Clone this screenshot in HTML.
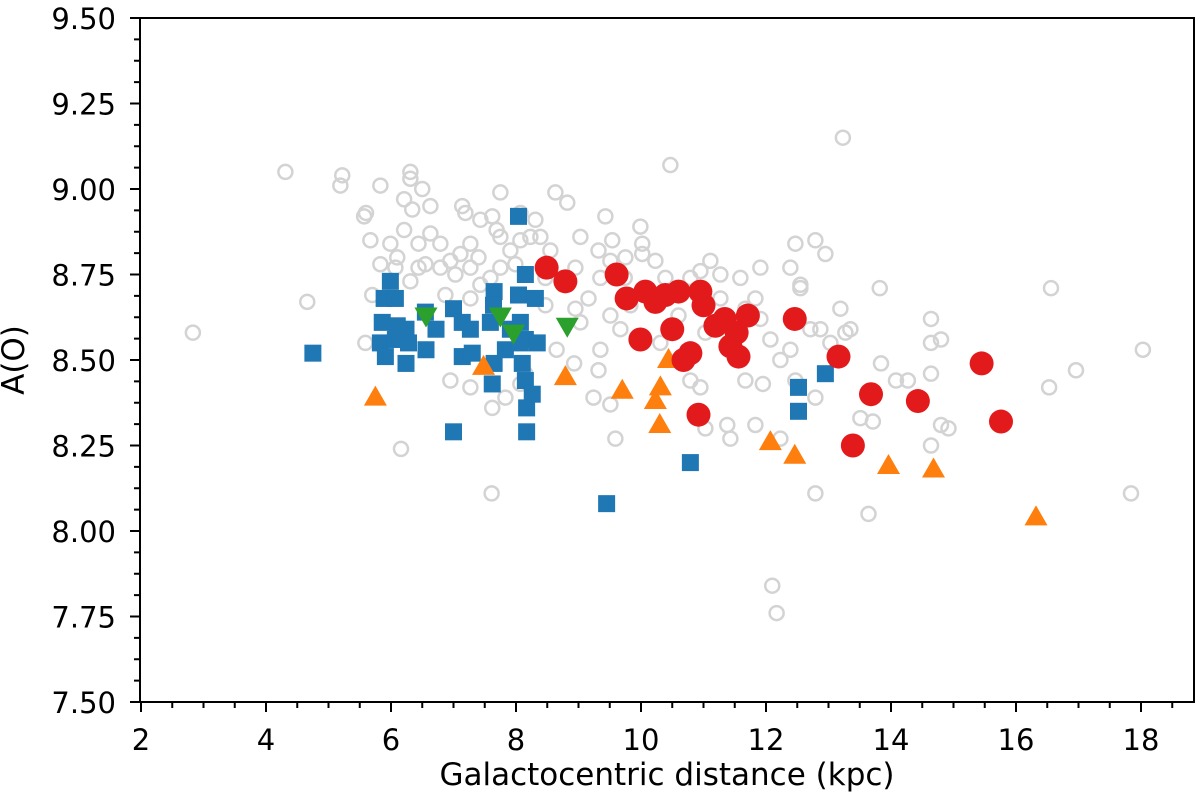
<!DOCTYPE html>
<html><head><meta charset="utf-8"><style>
html,body{margin:0;padding:0;background:#fff;}
svg text{font-family:"DejaVu Sans","Liberation Sans",sans-serif;fill:#000;}
</style></head><body>
<svg id="chart" width="1200" height="804" viewBox="0 0 1200 804" xmlns="http://www.w3.org/2000/svg">
<g id="marks"></g>
<g id="axes"></g>
<text x="667" y="785" font-size="31" text-anchor="middle">Galactocentric distance (kpc)</text>
<text transform="translate(24,360) rotate(-90)" font-size="31" text-anchor="middle">A(O)</text>
</svg>
<script>
const xTicks = [2,4,6,8,10,12,14,16,18];
const yTicks = [7.50,7.75,8.00,8.25,8.50,8.75,9.00,9.25,9.50];
const grayX = [2.83,4.31,4.66,5.22,5.19,5.57,5.60,5.83,6.07,6.21,6.31,6.31,6.50,6.34,6.63,6.21,6.44,6.63,6.79,6.55,6.31,6.79,6.95,7.11,7.27,7.40,7.14,7.19,7.62,7.75,7.91,8.07,8.23,8.39,7.99,7.75,7.59,7.43,7.27,7.03,6.87,7.27,7.62,8.07,7.83,8.47,8.55,8.63,8.82,9.03,8.95,9.16,9.32,9.35,9.51,9.43,9.99,10.02,10.02,9.74,9.83,9.51,9.67,9.35,9.32,9.59,10.39,10.60,10.31,10.79,10.95,11.11,11.27,11.59,11.67,11.83,11.91,12.07,12.23,12.39,12.55,12.55,12.71,12.87,13.03,13.19,13.27,13.35,12.95,13.82,13.84,14.08,13.51,13.71,14.27,14.64,14.64,14.80,14.92,14.64,14.64,14.80,16.56,16.53,16.96,18.03,17.84,12.10,12.17,12.79,13.64,12.23,11.83,11.38,11.43,10.95,11.03,10.79,10.47,13.23,7.61,6.16,9.51,9.24,8.93,8.65,8.15,7.27,6.95,9.54,9.75,10.23,11.27,11.03,8.95,9.03,8.47,7.43,7.69,8.07,8.31,6.44,6.10,5.67,5.83,5.99,7.75,12.47,12.79,11.95,11.67,12.79,12.47,11.91,12.39,5.70,5.59];
const grayY = [8.58,9.05,8.67,9.04,9.01,8.92,8.93,9.01,8.77,8.97,9.05,9.03,9.00,8.94,8.95,8.88,8.84,8.87,8.84,8.78,8.73,8.77,8.79,8.81,8.84,8.80,8.95,8.93,8.92,8.86,8.82,8.85,8.86,8.86,8.78,8.77,8.74,8.72,8.77,8.75,8.69,8.68,8.36,8.43,8.39,8.74,8.82,8.99,8.96,8.86,8.77,8.68,8.82,8.74,8.79,8.92,8.89,8.81,8.84,8.74,8.66,8.63,8.59,8.53,8.47,8.27,8.74,8.63,8.55,8.74,8.76,8.79,8.75,8.74,8.65,8.68,8.62,8.56,8.50,8.53,8.72,8.71,8.59,8.59,8.55,8.65,8.58,8.59,8.81,8.71,8.49,8.44,8.33,8.32,8.44,8.46,8.25,8.31,8.30,8.55,8.62,8.56,8.71,8.42,8.47,8.53,8.11,7.84,7.76,8.11,8.05,8.27,8.31,8.31,8.27,8.42,8.30,8.44,9.07,9.15,8.11,8.24,8.37,8.39,8.49,8.53,8.46,8.42,8.44,8.85,8.80,8.79,8.68,8.58,8.65,8.61,8.66,8.91,8.88,8.93,8.91,8.77,8.80,8.85,8.78,8.84,8.99,8.44,8.39,8.43,8.44,8.85,8.84,8.77,8.77,8.69,8.55];
const blueX = [4.75,5.99,5.89,6.07,5.86,6.10,5.83,6.07,5.91,6.24,6.28,6.24,6.56,6.72,6.55,7.00,7.14,7.27,7.14,7.30,7.65,7.64,7.59,7.65,7.62,7.00,8.04,8.15,8.04,8.07,8.15,8.10,8.15,8.17,8.17,8.26,8.31,8.34,9.45,10.79,12.52,12.52,12.95,7.91,7.83,8.07];
const blueY = [8.52,8.73,8.68,8.68,8.61,8.60,8.55,8.56,8.51,8.59,8.55,8.49,8.53,8.59,8.64,8.65,8.61,8.59,8.51,8.52,8.70,8.66,8.61,8.49,8.43,8.29,8.92,8.75,8.69,8.61,8.56,8.49,8.44,8.36,8.29,8.40,8.68,8.55,8.08,8.20,8.42,8.35,8.46,8.59,8.53,8.55];
const orangeX = [5.75,7.48,8.79,9.70,10.23,10.31,10.30,10.44,12.07,12.46,13.96,14.68,16.32];
const orangeY = [8.39,8.48,8.45,8.41,8.38,8.42,8.31,8.50,8.26,8.22,8.19,8.18,8.04];
const greenX = [6.56,7.75,7.96,8.82];
const greenY = [8.63,8.63,8.58,8.60];
const redX = [8.49,8.79,9.61,9.77,10.07,10.23,10.39,10.60,10.50,9.99,10.95,11.00,10.79,11.19,11.34,11.43,11.53,11.56,11.71,12.46,13.16,13.68,14.43,15.45,15.76,13.39,10.92,10.68];
const redY = [8.77,8.73,8.75,8.68,8.70,8.67,8.69,8.70,8.59,8.56,8.70,8.66,8.52,8.60,8.62,8.54,8.58,8.51,8.63,8.62,8.51,8.40,8.38,8.49,8.32,8.25,8.34,8.50];

const X0=140, X1=1194, Y0=18, Y1=702;
const xmin=2-1/62.5, xmax=2+(1194-141)/62.5, ymin=7.5, ymax=9.5;
function sx(v){return X0+(v-xmin)/(xmax-xmin)*(X1-X0);}
function sy(v){return Y1-(v-ymin)/(ymax-ymin)*(Y1-Y0);}
const NS='http://www.w3.org/2000/svg';
const marks=document.getElementById('marks');
const axes=document.getElementById('axes');
function mk(tag,attrs,parent){const e=document.createElementNS(NS,tag);for(const k in attrs)e.setAttribute(k,attrs[k]);parent.appendChild(e);return e;}

for(let i=0;i<grayX.length;i++){
  const c=mk('circle',{cx:sx(grayX[i]),cy:sy(grayY[i]),r:7,fill:'none',stroke:'#d3d3d3','stroke-width':2.5},marks);
  
  
}
for(let i=0;i<blueX.length;i++){
  const s=mk('rect',{x:sx(blueX[i])-8.5,y:sy(blueY[i])-8.5,width:17,height:17,fill:'#1f77b4'},marks);
  
  
}
for(let i=0;i<greenX.length;i++){
  const x=sx(greenX[i]),y=sy(greenY[i]);
  const p=mk('polygon',{points:`${x-11.5},${y-8} ${x+11.5},${y-8} ${x},${y+12}`,fill:'#2ca02c'},marks);
  
  
}
for(let i=0;i<orangeX.length;i++){
  const x=sx(orangeX[i]),y=sy(orangeY[i]);
  const p=mk('polygon',{points:`${x-11.5},${y+8} ${x+11.5},${y+8} ${x},${y-12}`,fill:'#ff7f0e'},marks);
  
  
}
for(let i=0;i<redX.length;i++){
  const c=mk('circle',{cx:sx(redX[i]),cy:sy(redY[i]),r:12,fill:'#e31a1c'},marks);
  
  
}
const fr=mk('rect',{x:X0,y:Y0,width:X1-X0,height:Y1-Y0,fill:'none',stroke:'#000','stroke-width':2},axes);


for(let v=2;v<=18.5;v+=0.5){
  const major=Math.abs(v-Math.round(v/2)*2)<1e-6;
  const x=sx(v);
  mk('line',{x1:x,y1:Y1,x2:x,y2:Y1+(major?10:6),stroke:'#000','stroke-width':2},axes);
}
xTicks.forEach(v=>{
  const t=mk('text',{x:sx(v),y:750,'font-size':29,'text-anchor':'middle'},axes);
  t.textContent=String(v);
  
  
});
for(let v=7.5;v<=9.5001;v+=0.0625){
  const major=Math.abs(v*4-Math.round(v*4))<1e-6;
  const y=sy(v);
  mk('line',{x1:X0,y1:y,x2:X0-(major?10:6),y2:y,stroke:'#000','stroke-width':2},axes);
}
yTicks.forEach(v=>{
  const t=mk('text',{x:X0-24,y:sy(v)+11,'font-size':29,'text-anchor':'end'},axes);
  t.textContent=v.toFixed(2);
  
  
});
</script>
</body></html>
